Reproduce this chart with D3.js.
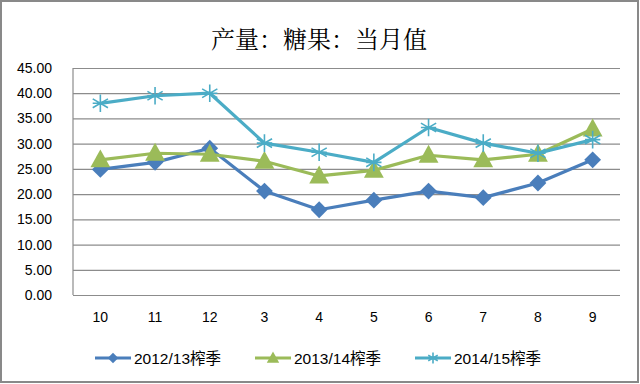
<!DOCTYPE html>
<html>
<head>
<meta charset="utf-8">
<script src="https://cdn.jsdelivr.net/npm/d3@7"></script>
<style>
  body { margin: 0; background: #fff; }
  svg { display: block; }
</style>
</head>
<body>
<svg id="chart"></svg>
<script>
// months of the crushing season
const months = ['10', '11', '12', '3', '4', '5', '6', '7', '8', '9'];
const seasonNames = ['2012/13榨季', '2013/14榨季', '2014/15榨季'];
const season1213 = [24.9, 26.3, 29.1, 20.6, 16.9, 18.8, 20.6, 19.3, 22.2, 26.8];
const season1314 = [26.8, 28.1, 27.9, 26.5, 23.6, 24.7, 27.7, 26.8, 27.9, 32.9];
const season1415 = [38.0, 39.5, 40.0, 30.1, 28.3, 26.3, 33.2, 30.1, 28.1, 30.8];
const yTicks = [0, 5, 10, 15, 20, 25, 30, 35, 40, 45];

const W = 640, H = 384;
const margin = { top: 68, right: 20, bottom: 89, left: 73 };
const width = W - margin.left - margin.right;
const height = H - margin.top - margin.bottom;

const colors = ['#4a7ebb', '#9bbb59', '#4bacc6'];
const shapes = ['diamond', 'triangle', 'star'];

const series = [season1213, season1314, season1415].map((vals, i) => ({
  name: seasonNames[i],
  color: colors[i],
  shape: shapes[i],
  values: vals.map((v, j) => ({ month: months[j], value: v }))
}));

const svg = d3.select('#chart').
  attr('width', W).
  attr('height', H);

// outer frame
svg.append('rect').
  attr('x', 1).attr('y', 1).
  attr('width', W - 3).attr('height', H - 3).
  attr('fill', '#fff').
  attr('stroke', '#898989').
  attr('stroke-width', 2);

svg.append('text').
  attr('x', 319).
  attr('y', 48).
  attr('text-anchor', 'middle').
  attr('font-family', '"Noto Serif CJK SC", "Noto Sans CJK SC", serif').
  attr('font-size', 24).
  attr('fill', '#000').
  text('产量：糖果：当月值');

const x = d3.scaleBand().
  domain(months).
  range([0, width]);

const y = d3.scaleLinear().
  domain([0, 45]).
  range([height, 0]);

const g = svg.append('g').
  attr('transform', `translate(${margin.left}, ${margin.top})`);

// grid + y labels
const yAxis = d3.axisLeft(y).
  tickValues(yTicks).
  tickSize(-width).
  tickFormat(d3.format('.2f'));

g.append('g').
  attr('class', 'axis y').
  call(yAxis).
  call(s => s.select('.domain').remove()).
  call(s => s.selectAll('line').attr('stroke', '#8c8c8c').attr('stroke-width', 1.2)).
  call(s => s.selectAll('text').
    attr('x', -21).
    attr('font-family', '"Liberation Sans", sans-serif').
    attr('font-size', 14).
    attr('fill', '#000'));

// left axis line
g.append('line').
  attr('x1', 0).attr('x2', 0).
  attr('y1', 0).attr('y2', height).
  attr('stroke', '#8c8c8c').
  attr('stroke-width', 1.2);

const xAxis = d3.axisBottom(x).tickSize(0);
g.append('g').
  attr('class', 'axis x').
  attr('transform', `translate(0, ${height})`).
  call(xAxis).
  call(s => s.select('.domain').remove()).
  call(s => s.selectAll('text').
    attr('y', 17).
    attr('font-family', '"Liberation Sans", sans-serif').
    attr('font-size', 14).
    attr('fill', '#000'));

const cx = d => x(d.month) + x.bandwidth() / 2;
const line = d3.line().
  x(cx).
  y(d => y(d.value));

function drawMarker(sel, shape, color, size) {
  if (shape === 'diamond') {
    sel.append('path').
      attr('d', d3.symbol(d3.symbolSquare, size * size * 0.55)()).
      attr('transform', 'rotate(45)').
      attr('fill', color);
  } else if (shape === 'triangle') {
    const s = size * 0.62;
    sel.append('path').
      attr('d', `M0,${-s * 1.05}L${s},${s * 0.75}L${-s},${s * 0.75}Z`).
      attr('fill', color);
  } else {
    const r = size * 0.55;
    const p = d3.path();
    for (let a = 0; a < 3; a++) {
      const ang = Math.PI / 2 + a * Math.PI / 3;
      p.moveTo(Math.cos(ang) * r, Math.sin(ang) * r);
      p.lineTo(-Math.cos(ang) * r, -Math.sin(ang) * r);
    }
    p.moveTo(-r * 0.87, 0);
    p.lineTo(r * 0.87, 0);
    sel.append('path').
      attr('d', p.toString()).
      attr('stroke', color).
      attr('stroke-width', 1.6).
      attr('fill', 'none');
  }
}

series.forEach(s => {
  const sg = g.append('g').attr('class', 'series');
  sg.append('path').
    datum(s.values).
    attr('d', line).
    attr('fill', 'none').
    attr('stroke', s.color).
    attr('stroke-width', 3.2).
    attr('stroke-linejoin', 'round');

  sg.selectAll('g.mark').
    data(s.values).
    enter().append('g').
    attr('class', 'mark').
    attr('transform', d => `translate(${cx(d)}, ${y(d.value)})`).
    each(function () { drawMarker(d3.select(this), s.shape, s.color, 16); });
});

// legend
const legendX = [95, 255, 415];
const legend = svg.append('g').
  attr('transform', 'translate(0, 358)');

series.forEach((s, i) => {
  const lg = legend.append('g').
    attr('transform', `translate(${legendX[i]}, 0)`);
  lg.append('line').
    attr('x1', 0).attr('x2', 36).
    attr('stroke', s.color).
    attr('stroke-width', 3.2);
  const m = lg.append('g').attr('transform', 'translate(18, 0)');
  drawMarker(m, s.shape, s.color, 10);
  lg.append('text').
    attr('x', 39).
    attr('y', 6).
    attr('font-family', '"Liberation Sans", "Noto Sans CJK SC", sans-serif').
    attr('font-size', 15.5).
    attr('fill', '#000').
    text(s.name);
});
</script>
</body>
</html>
